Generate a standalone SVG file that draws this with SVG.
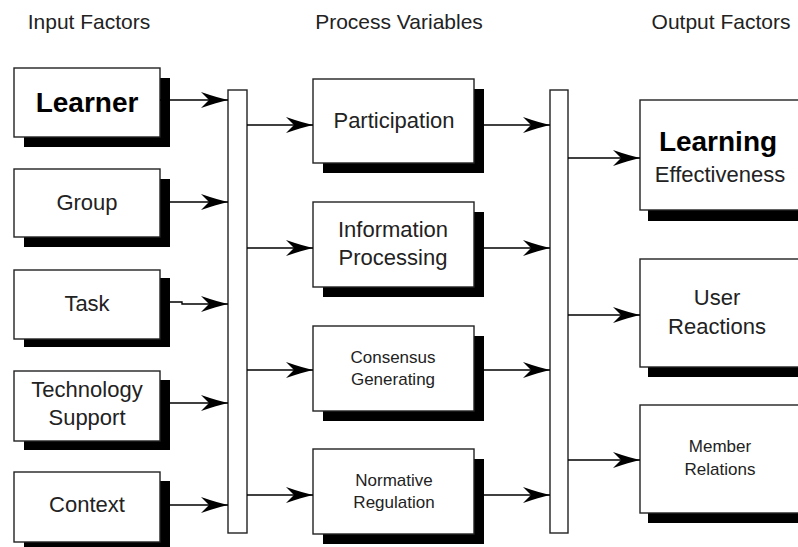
<svg xmlns="http://www.w3.org/2000/svg" width="798" height="547" viewBox="0 0 798 547">
<style>
.box{fill:#fff;stroke:#222;stroke-width:1.4}
.sh{fill:#000}
.bar{fill:#fff;stroke:#222;stroke-width:1.4}
.t{font-family:"Liberation Sans",Arial,sans-serif;font-size:22px;fill:#222;text-anchor:middle}
.s{font-size:17px}
.b{font-weight:bold;font-size:28px;fill:#000}
.h{font-family:"Liberation Sans",Arial,sans-serif;font-size:21px;fill:#222;text-anchor:middle}
.c{fill:none;stroke:#000;stroke-width:1.4;marker-end:url(#ah)}
</style>
<defs>
<marker id="ah" markerUnits="userSpaceOnUse" markerWidth="30" markerHeight="18" viewBox="-28 -9 30 18" refX="0" refY="0" orient="auto">
<path d="M0,0 Q-11,-2.5 -27,-8 L-19,0 L-27,8 Q-11,2.5 0,0Z" fill="#000"/>
</marker>
</defs>
<rect width="798" height="547" fill="#fff"/>
<g id="headers">
<text class="h" x="89" y="29">Input Factors</text>
<text class="h" x="399" y="29">Process Variables</text>
<text class="h" x="721" y="29">Output Factors</text>
</g>
<g id="learner"><rect class="sh" x="24" y="78" width="146" height="69"/><rect class="box" x="14" y="68" width="146" height="69"/><text class="t b" x="87" y="112">Learner</text></g>
<g id="group"><rect class="sh" x="24" y="179" width="146" height="68"/><rect class="box" x="14" y="169" width="146" height="68"/><text class="t" x="87" y="210">Group</text></g>
<g id="task"><rect class="sh" x="24" y="278" width="146" height="69"/><rect class="box" x="14" y="270" width="146" height="69"/><text class="t" x="87" y="311">Task</text></g>
<g id="technology"><rect class="sh" x="24" y="380" width="146" height="70"/><rect class="box" x="14" y="371" width="146" height="70"/><text class="t" x="87" y="397">Technology</text><text class="t" x="87" y="425">Support</text></g>
<g id="context"><rect class="sh" x="24" y="481" width="146" height="70"/><rect class="box" x="14" y="472" width="146" height="70"/><text class="t" x="87" y="512">Context</text></g>
<g id="barL"><rect class="bar" x="228" y="90" width="19" height="443"/></g>
<g id="participation"><rect class="sh" x="323" y="89" width="161" height="84"/><rect class="box" x="313" y="79" width="161" height="84"/><text class="t" x="394" y="128">Participation</text></g>
<g id="information"><rect class="sh" x="323" y="212" width="161" height="85"/><rect class="box" x="313" y="202" width="161" height="85"/><text class="t" x="393" y="237">Information</text><text class="t" x="393" y="265">Processing</text></g>
<g id="consensus"><rect class="sh" x="323" y="336" width="161" height="85"/><rect class="box" x="313" y="326" width="161" height="85"/><text class="t s" x="393" y="363">Consensus</text><text class="t s" x="393" y="385">Generating</text></g>
<g id="normative"><rect class="sh" x="323" y="459" width="161" height="85"/><rect class="box" x="313" y="449" width="161" height="85"/><text class="t s" x="394" y="486">Normative</text><text class="t s" x="394" y="508">Regulation</text></g>
<g id="barR"><rect class="bar" x="550" y="90" width="18" height="443"/></g>
<g id="learning"><rect class="sh" x="648" y="110" width="170" height="111"/><rect class="box" x="640" y="100" width="170" height="110"/><text class="t b" x="718" y="151">Learning</text><text class="t" x="720" y="182">Effectiveness</text></g>
<g id="user"><rect class="sh" x="648" y="269" width="170" height="108"/><rect class="box" x="640" y="259" width="170" height="108"/><text class="t" x="717" y="305">User</text><text class="t" x="717" y="334">Reactions</text></g>
<g id="member"><rect class="sh" x="648" y="415" width="170" height="108"/><rect class="box" x="640" y="405" width="170" height="108"/><text class="t s" x="720" y="452">Member</text><text class="t s" x="720" y="475">Relations</text></g>
<g id="connectors">
<path class="c" d="M160,100 H228"/>
<path class="c" d="M170,202 H228"/>
<path class="c" d="M170,302 H182 V304 H228"/>
<path class="c" d="M170,403 H228"/>
<path class="c" d="M170,505 H228"/>
<path class="c" d="M247,125 H313"/>
<path class="c" d="M247,248 H313"/>
<path class="c" d="M247,370 H313"/>
<path class="c" d="M247,495 H313"/>
<path class="c" d="M484,125 H550"/>
<path class="c" d="M484,248 H550"/>
<path class="c" d="M484,370 H550"/>
<path class="c" d="M484,495 H550"/>
<path class="c" d="M568,158 H640"/>
<path class="c" d="M568,315 H640"/>
<path class="c" d="M568,460 H640"/>
</g>
</svg>
